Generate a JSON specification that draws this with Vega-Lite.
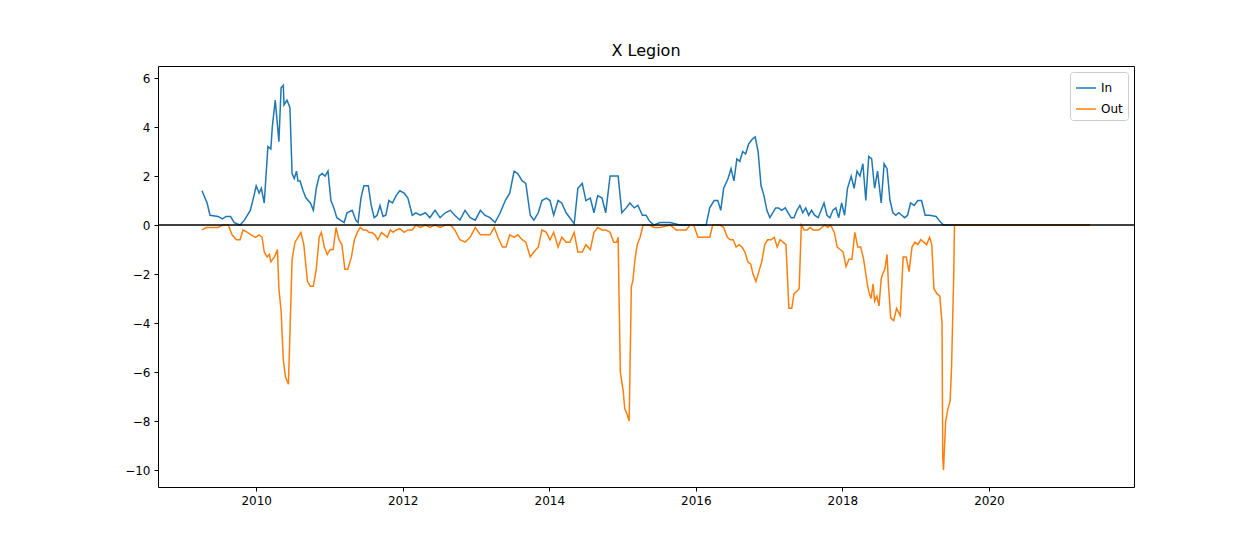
{
  "$schema": "https://vega.github.io/schema/vega-lite/v6.json",
  "width": 976,
  "height": 421,
  "autosize": {"type": "none"},
  "padding": {"left": 158, "top": 66, "right": 126, "bottom": 60},
  "title": {"text": "X Legion", "font": "DejaVu Sans", "fontSize": 16, "fontWeight": "normal", "offset": 7},
  "datasets": {
    "inflow": [
      [2009.26,1.4],[2009.33,0.9],[2009.37,0.4],[2009.48,0.35],[2009.54,0.25],[2009.59,0.35],[2009.65,0.35],[2009.70,0.1],[2009.78,0.0],[2009.84,0.2],[2009.92,0.6],[2009.97,1.2],[2010.00,1.6],[2010.04,1.3],[2010.07,1.5],[2010.11,0.9],[2010.16,3.2],[2010.20,3.1],[2010.22,4.0],[2010.26,5.1],[2010.29,4.1],[2010.31,3.4],[2010.34,5.6],[2010.37,5.7],[2010.38,4.9],[2010.42,5.1],[2010.46,4.8],[2010.49,2.1],[2010.52,1.9],[2010.55,2.2],[2010.57,1.8],[2010.60,1.8],[2010.64,1.4],[2010.68,1.1],[2010.74,0.9],[2010.78,0.6],[2010.82,1.5],[2010.86,2.0],[2010.90,2.1],[2010.94,2.0],[2010.98,2.2],[2011.02,1.0],[2011.06,0.7],[2011.10,0.3],[2011.15,0.2],[2011.20,0.1],[2011.24,0.5],[2011.31,0.6],[2011.36,0.2],[2011.39,0.1],[2011.43,1.1],[2011.47,1.6],[2011.53,1.6],[2011.57,0.8],[2011.61,0.3],[2011.65,0.4],[2011.69,0.8],[2011.73,0.35],[2011.77,0.4],[2011.81,1.0],[2011.86,0.9],[2011.91,1.2],[2011.96,1.4],[2012.02,1.3],[2012.07,1.1],[2012.13,0.4],[2012.18,0.5],[2012.24,0.4],[2012.31,0.5],[2012.37,0.3],[2012.44,0.6],[2012.51,0.3],[2012.58,0.5],[2012.65,0.6],[2012.71,0.4],[2012.78,0.2],[2012.85,0.6],[2012.92,0.3],[2012.99,0.2],[2013.06,0.6],[2013.12,0.4],[2013.19,0.3],[2013.26,0.1],[2013.33,0.5],[2013.40,1.0],[2013.46,1.3],[2013.52,2.2],[2013.57,2.1],[2013.63,1.8],[2013.68,1.7],[2013.74,0.4],[2013.79,0.2],[2013.85,0.5],[2013.90,1.0],[2013.96,1.1],[2014.01,1.0],[2014.06,0.4],[2014.12,1.0],[2014.17,0.9],[2014.23,0.5],[2014.28,0.3],[2014.34,0.05],[2014.39,1.5],[2014.45,1.7],[2014.50,1.0],[2014.56,1.1],[2014.61,0.5],[2014.66,1.2],[2014.72,1.1],[2014.77,0.5],[2014.83,2.0],[2014.88,2.0],[2014.94,2.0],[2014.99,0.5],[2015.05,0.7],[2015.10,0.9],[2015.16,0.7],[2015.21,0.8],[2015.27,0.4],[2015.32,0.4],[2015.37,0.15],[2015.43,0.0],[2015.51,0.1],[2015.65,0.1],[2015.78,0.0],[2016.06,0.0],[2016.14,0.0],[2016.19,0.7],[2016.25,1.0],[2016.30,1.0],[2016.34,0.6],[2016.38,1.5],[2016.44,1.9],[2016.48,2.3],[2016.52,1.8],[2016.56,2.7],[2016.60,2.6],[2016.64,3.0],[2016.68,2.9],[2016.72,3.3],[2016.77,3.5],[2016.81,3.6],[2016.85,3.0],[2016.89,1.6],[2016.93,1.2],[2016.97,0.6],[2017.01,0.3],[2017.05,0.5],[2017.09,0.7],[2017.13,0.7],[2017.17,0.6],[2017.22,0.7],[2017.26,0.5],[2017.30,0.3],[2017.34,0.3],[2017.38,0.6],[2017.42,0.8],[2017.46,0.5],[2017.50,0.7],[2017.54,0.4],[2017.58,0.6],[2017.62,0.4],[2017.67,0.3],[2017.71,0.6],[2017.75,0.9],[2017.79,0.4],[2017.83,0.3],[2017.87,0.6],[2017.91,0.7],[2017.95,0.3],[2017.99,0.9],[2018.03,0.4],[2018.07,1.5],[2018.12,2.0],[2018.16,1.5],[2018.20,2.2],[2018.24,2.0],[2018.28,2.5],[2018.32,1.0],[2018.36,2.8],[2018.40,2.7],[2018.44,1.5],[2018.48,2.2],[2018.53,0.9],[2018.57,2.5],[2018.61,2.3],[2018.65,1.0],[2018.69,0.5],[2018.73,0.4],[2018.77,0.5],[2018.81,0.4],[2018.85,0.3],[2018.89,0.4],[2018.93,0.9],[2018.98,0.8],[2019.03,1.0],[2019.08,1.0],[2019.13,0.4],[2019.19,0.4],[2019.28,0.35],[2019.33,0.15],[2019.38,0.0],[2021.38,0.0]
    ],
    "outflow": [
      [2009.26,-0.2],[2009.32,-0.1],[2009.37,-0.1],[2009.48,-0.1],[2009.54,0],[2009.62,0],[2009.67,-0.4],[2009.73,-0.6],[2009.78,-0.6],[2009.82,-0.2],[2009.88,-0.3],[2009.93,-0.4],[2009.99,-0.5],[2010.04,-0.4],[2010.08,-0.5],[2010.11,-1.1],[2010.15,-1.3],[2010.18,-1.2],[2010.20,-1.5],[2010.25,-1.3],[2010.29,-1.0],[2010.31,-2.6],[2010.34,-3.5],[2010.37,-5.5],[2010.40,-6.2],[2010.44,-6.5],[2010.46,-4.5],[2010.49,-1.4],[2010.53,-0.7],[2010.57,-0.5],[2010.61,-0.3],[2010.65,-0.8],[2010.70,-2.3],[2010.74,-2.5],[2010.78,-2.5],[2010.82,-1.8],[2010.86,-0.5],[2010.89,-0.3],[2010.93,-0.9],[2010.97,-1.2],[2011.01,-1.0],[2011.05,-1.0],[2011.09,-0.1],[2011.13,-0.6],[2011.17,-0.8],[2011.21,-1.8],[2011.25,-1.8],[2011.30,-1.3],[2011.34,-0.6],[2011.38,-0.3],[2011.42,-0.1],[2011.46,-0.2],[2011.50,-0.2],[2011.54,-0.3],[2011.58,-0.3],[2011.62,-0.4],[2011.66,-0.6],[2011.71,-0.3],[2011.75,-0.4],[2011.79,-0.5],[2011.83,-0.2],[2011.87,-0.3],[2011.91,-0.2],[2011.96,-0.15],[2012.02,-0.3],[2012.07,-0.2],[2012.13,-0.2],[2012.18,0],[2012.24,-0.1],[2012.31,0],[2012.37,-0.1],[2012.44,0],[2012.51,-0.1],[2012.58,0],[2012.65,0],[2012.71,-0.2],[2012.78,-0.6],[2012.85,-0.7],[2012.92,-0.5],[2012.99,-0.1],[2013.06,-0.4],[2013.12,-0.4],[2013.19,-0.4],[2013.25,-0.1],[2013.30,-0.5],[2013.36,-0.9],[2013.41,-0.9],[2013.46,-0.4],[2013.52,-0.5],[2013.57,-0.4],[2013.63,-0.6],[2013.68,-0.7],[2013.74,-1.3],[2013.79,-1.1],[2013.85,-0.9],[2013.90,-0.2],[2013.96,-0.3],[2014.01,-0.6],[2014.06,-0.3],[2014.12,-0.9],[2014.17,-0.5],[2014.23,-0.7],[2014.28,-0.7],[2014.34,-0.3],[2014.39,-1.1],[2014.45,-1.1],[2014.50,-0.8],[2014.56,-1.0],[2014.61,-0.3],[2014.66,-0.1],[2014.72,-0.2],[2014.77,-0.2],[2014.83,-0.3],[2014.88,-0.7],[2014.92,-0.7],[2014.94,-0.5],[2014.95,-2.5],[2014.97,-6.0],[2014.98,-6.2],[2015.01,-6.8],[2015.03,-7.5],[2015.06,-7.7],[2015.09,-8.0],[2015.12,-2.5],[2015.14,-2.3],[2015.17,-1.4],[2015.20,-0.8],[2015.24,-0.5],[2015.28,0],[2015.37,0],[2015.43,-0.1],[2015.51,-0.1],[2015.65,0],[2015.73,-0.2],[2015.78,-0.2],[2015.87,-0.2],[2015.92,0],[2015.97,0],[2016.03,-0.5],[2016.11,-0.5],[2016.19,-0.5],[2016.23,0],[2016.33,0],[2016.38,-0.1],[2016.43,-0.5],[2016.47,-0.6],[2016.51,-0.6],[2016.55,-0.9],[2016.59,-0.8],[2016.63,-0.9],[2016.67,-1.1],[2016.71,-1.5],[2016.75,-1.6],[2016.78,-2.0],[2016.82,-2.3],[2016.86,-1.9],[2016.90,-1.5],[2016.94,-0.8],[2016.98,-0.6],[2017.03,-0.6],[2017.07,-0.5],[2017.11,-0.9],[2017.15,-0.6],[2017.19,-0.7],[2017.23,-0.8],[2017.27,-3.4],[2017.31,-3.4],[2017.34,-2.8],[2017.38,-2.7],[2017.41,-2.6],[2017.44,0],[2017.48,-0.2],[2017.52,-0.2],[2017.56,-0.1],[2017.60,-0.2],[2017.64,-0.2],[2017.68,-0.2],[2017.72,-0.1],[2017.76,0],[2017.80,-0.1],[2017.84,0],[2017.89,-0.3],[2017.93,-0.9],[2017.97,-1.0],[2018.01,-1.1],[2018.05,-1.7],[2018.09,-1.4],[2018.13,-1.4],[2018.17,-0.3],[2018.21,-0.9],[2018.25,-0.9],[2018.29,-1.4],[2018.34,-2.4],[2018.36,-2.7],[2018.39,-3.0],[2018.42,-2.4],[2018.44,-3.1],[2018.47,-2.9],[2018.50,-3.3],[2018.53,-2.2],[2018.55,-2.0],[2018.58,-1.8],[2018.61,-1.2],[2018.63,-2.5],[2018.66,-3.8],[2018.70,-3.9],[2018.74,-3.4],[2018.79,-3.7],[2018.83,-1.3],[2018.87,-1.3],[2018.91,-1.9],[2018.95,-0.9],[2018.99,-0.7],[2019.03,-0.8],[2019.07,-0.6],[2019.11,-0.7],[2019.15,-0.8],[2019.19,-0.5],[2019.22,-0.8],[2019.25,-2.6],[2019.29,-2.8],[2019.33,-2.9],[2019.36,-4.0],[2019.37,-9.5],[2019.38,-10.0],[2019.41,-8.0],[2019.44,-7.5],[2019.47,-7.2],[2019.49,-5.8],[2019.52,-2.0],[2019.53,0],[2021.38,0]
    ]
  },
  "layer": [
    {
      "data": {"name": "inflow"},
      "transform": [
        {"calculate": "'In'", "as": "series"}
      ],
      "mark": {"type": "line", "strokeWidth": 1.5, "clip": true},
      "encoding": {
        "x": {"field": "0", "type": "quantitative"},
        "y": {"field": "1", "type": "quantitative"},
        "color": {"field": "series", "type": "nominal"}
      }
    },
    {
      "data": {"name": "outflow"},
      "transform": [
        {"calculate": "'Out'", "as": "series"}
      ],
      "mark": {"type": "line", "strokeWidth": 1.5, "clip": true},
      "encoding": {
        "x": {"field": "0", "type": "quantitative"},
        "y": {"field": "1", "type": "quantitative"},
        "color": {"field": "series", "type": "nominal"}
      }
    },
    {
      "data": {"values": [{"zero": 0}]},
      "mark": {"type": "rule", "color": "black", "strokeWidth": 1.5},
      "encoding": {"y": {"field": "zero", "type": "quantitative"}}
    }
  ],
  "encoding": {
    "x": {
      "type": "quantitative",
      "scale": {"domain": [2008.66, 2021.98], "nice": false, "zero": false},
      "axis": {"title": null, "values": [2010, 2012, 2014, 2016, 2018, 2020], "format": "d", "grid": false, "tickSize": 4, "labelFontSize": 12, "labelPadding": 4}
    },
    "y": {
      "type": "quantitative",
      "scale": {"domain": [-10.69, 6.49], "nice": false, "zero": false},
      "axis": {"title": null, "values": [-10, -8, -6, -4, -2, 0, 2, 4, 6], "format": "d", "grid": false, "tickSize": 4, "labelFontSize": 12, "labelPadding": 4}
    },
    "color": {
      "type": "nominal",
      "scale": {"domain": ["In", "Out"], "range": ["#1f77b4", "#ff7f0e"]},
      "legend": {
        "title": null, "orient": "top-right", "symbolType": "stroke", "symbolSize": 400, "symbolStrokeWidth": 1.5,
        "labelFontSize": 12, "strokeColor": "#cccccc", "fillColor": "white", "padding": 5, "cornerRadius": 3, "offset": 6, "rowPadding": 4
      }
    }
  },
  "config": {
    "font": "DejaVu Sans",
    "view": {"stroke": "black", "strokeWidth": 1},
    "axis": {"domain": false, "labelFont": "DejaVu Sans", "labelColor": "black", "tickColor": "black"},
    "legend": {"labelFont": "DejaVu Sans"}
  }
}
